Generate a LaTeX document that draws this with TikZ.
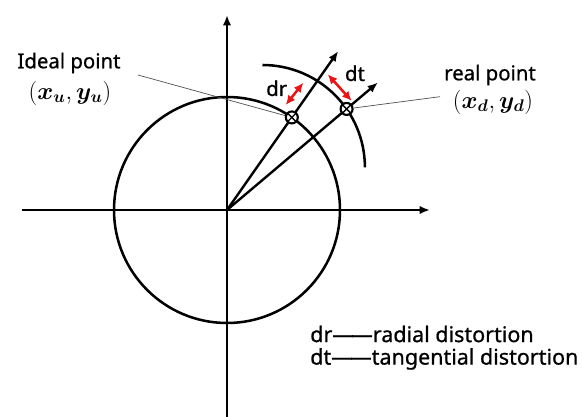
\documentclass[tikz,border=0pt]{standalone}
\usepackage{fontspec}
\usepackage{bm}
\setmainfont{Noto Sans}
\newfontfamily\tagfont{Noto Sans}[FakeBold=0.7]
\usetikzlibrary{arrows.meta}

\definecolor{distAxis}{RGB}{0,0,0}
\definecolor{distLeader}{RGB}{80,80,80}
\definecolor{distShift}{RGB}{235,20,20}

\begin{document}
\begin{tikzpicture}[x=1cm,y=1cm,
      tag/.style={font=\fontsize{14.5}{17}\selectfont\tagfont, text=black,
        inner sep=0pt},
      coord/.style={font=\fontsize{16.5}{19}\selectfont, text=black,
        inner sep=0pt},
      legend/.style={font=\fontsize{15.3}{18}\selectfont\tagfont, text=black,
        inner sep=0pt, anchor=west},
      axis/.style={draw=distAxis, line width=1.8pt,
        -{Latex[length=.26cm,width=.21cm]}},
      ray/.style={draw=distAxis, line width=1.7pt,
        -{Latex[length=.26cm,width=.21cm]}},
      curve/.style={draw=distAxis, line width=1.8pt},
      leader/.style={draw=distLeader, line width=.5pt},
      offsetarrow/.style={draw=distShift, line width=1.8pt,
        {Latex[length=.24cm,width=.22cm]}-{Latex[length=.24cm,width=.22cm]}},
      spot/.style={circle, draw=distAxis, line width=1.5pt, minimum size=.3cm,
        inner sep=0pt, fill=white,
        path picture={\draw[line width=1pt]
          (path picture bounding box.north west) --
          (path picture bounding box.south east)
          (path picture bounding box.north east) --
          (path picture bounding box.south west);}}]
      \useasboundingbox (-5.675,-5.175) rectangle (8.875,5.25);

      \coordinate (o) at (0,0);
      \coordinate (xl) at (-5.125,0);
      \coordinate (xr) at (5.075,0);
      \coordinate (yb) at (0,-5.175);
      \coordinate (yt) at (0,4.875);
      \coordinate (tipu) at (55:4.85);
      \coordinate (tipd) at (40.2:4.94);

      \draw[axis] (xl) -- (xr);
      \draw[axis] (yb) -- (yt);
      \draw[curve] (o) circle (2.825);
      \draw[curve] (.8875,3.625) arc (90:0:2.56);

      \draw[ray] (o) -- (tipu);
      \draw[ray] (o) -- (tipd);

      \node[spot] (ideal) at (55:2.825) {};
      \node[spot] (real) at (40.2:3.915) {};

      \node[tag] (idealname) at (-3.95,3.675) {Ideal point};
      \node[coord] (idealxy) at (-3.925,2.925) {$(\bm{x_u},\bm{y_u})$};
      \node[tag] (realname) at (6.575,3.375) {real point};
      \node[coord] (realxy) at (6.65,2.7) {$(\bm{x_d},\bm{y_d})$};

      \coordinate (idealfoot) at (-2.225,3.375);
      \coordinate (realfoot) at (5.325,2.8325);
      \draw[leader] (idealfoot) -- (ideal);
      \draw[leader] (real) -- (realfoot);

      \coordinate (drlow) at (1.4675,2.625);
      \coordinate (drhigh) at (1.9075,3.1825);
      \coordinate (dtlow) at (2.5175,3.3925);
      \coordinate (dthigh) at (3.1175,2.725);
      \draw[offsetarrow] (drlow) -- (drhigh);
      \draw[offsetarrow] (dtlow) -- (dthigh);
      \node[tag] (drname) at (1.2425,3.0425) {dr};
      \node[tag] (dtname) at (3.2,3.4175) {dt};

      \node[legend] (radial) at (2.075,-3.1)
        {dr—\kern-.12em—radial distortion};
      \node[legend] (tangential) at (2.075,-3.725)
        {dt—\kern-.12em—tangential distortion};
    \end{tikzpicture}
\end{document}
